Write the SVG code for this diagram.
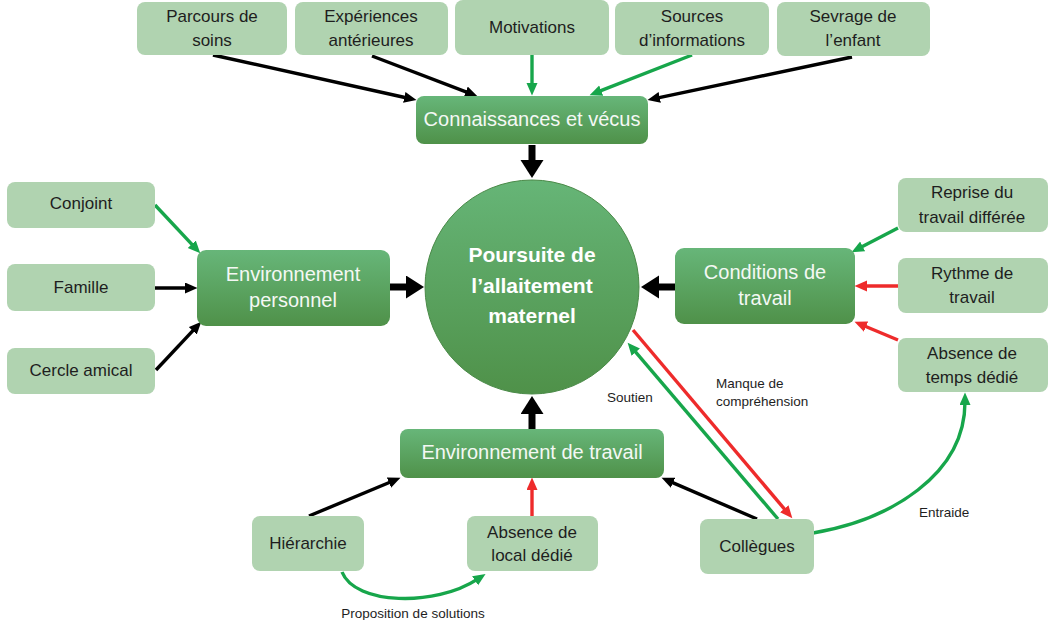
<svg xmlns="http://www.w3.org/2000/svg" width="1048" height="620" viewBox="0 0 1048 620">
<style>
.lb{fill:#b0d3b0}
.db{fill:url(#dg)}
.lt{font-family:"Liberation Sans",Arial,sans-serif;font-size:17px;fill:#1e1e1e;text-anchor:middle}
.dt{font-family:"Liberation Sans",Arial,sans-serif;font-size:20px;fill:#f4f8f4;text-anchor:middle}
.ct{font-family:"Liberation Sans",Arial,sans-serif;font-size:21px;font-weight:bold;fill:#ffffff;text-anchor:middle}
.sl{font-family:"Liberation Sans",Arial,sans-serif;font-size:13.5px;fill:#1e1e1e}
.k{stroke:#000;stroke-width:3.4;fill:none;marker-end:url(#ak)}
.g{stroke:#17a64b;stroke-width:3.4;fill:none;marker-end:url(#ag)}
.r{stroke:#ee2b2b;stroke-width:3.4;fill:none;marker-end:url(#ar)}
.t{stroke:#000;stroke-width:7;fill:none;marker-end:url(#at)}
</style>
<defs>
<linearGradient id="dg" x1="0" y1="0" x2="0" y2="1">
<stop offset="0" stop-color="#67b679"/>
<stop offset="1" stop-color="#4f9149"/>
</linearGradient>
<linearGradient id="cg" x1="0" y1="0" x2="0" y2="1">
<stop offset="0" stop-color="#66b577"/>
<stop offset="1" stop-color="#4f9149"/>
</linearGradient>
<marker id="ak" markerUnits="userSpaceOnUse" markerWidth="14" markerHeight="12" refX="3" refY="5.5" orient="auto"><path d="M0,0 L12.5,5.5 L0,11 z" fill="#000"/></marker>
<marker id="ag" markerUnits="userSpaceOnUse" markerWidth="14" markerHeight="12" refX="3" refY="5.5" orient="auto"><path d="M0,0 L12.5,5.5 L0,11 z" fill="#17a64b"/></marker>
<marker id="ar" markerUnits="userSpaceOnUse" markerWidth="14" markerHeight="12" refX="3" refY="5.5" orient="auto"><path d="M0,0 L12.5,5.5 L0,11 z" fill="#ee2b2b"/></marker>
<marker id="at" markerUnits="userSpaceOnUse" markerWidth="19" markerHeight="24" refX="2" refY="11.5" orient="auto"><path d="M0,0 L18,11.5 L0,23 z" fill="#000"/></marker>
</defs>
<rect width="1048" height="620" fill="#fff"/>

<g id="connectors">
<line class="k" x1="213" y1="55" x2="407.2" y2="98"/>
<line class="k" x1="372" y1="56" x2="468.6" y2="92.8"/>
<line class="g" x1="532" y1="55" x2="532" y2="86"/>
<line class="g" x1="692" y1="55" x2="598.4" y2="91.7"/>
<line class="k" x1="852" y1="57" x2="656.8" y2="98.1"/>
<line class="g" x1="155" y1="205" x2="193.8" y2="246.4"/>
<line class="k" x1="155" y1="288" x2="188" y2="288"/>
<line class="k" x1="156" y1="370" x2="194.8" y2="328.6"/>
<line class="g" x1="898" y1="228" x2="860" y2="247.8"/>
<line class="r" x1="898" y1="286" x2="864" y2="286"/>
<line class="r" x1="898" y1="340" x2="863.3" y2="325.5"/>
<line class="k" x1="309" y1="516" x2="391.7" y2="481.5"/>
<line class="r" x1="532" y1="516" x2="532" y2="487"/>
<line class="k" x1="757" y1="519" x2="670.3" y2="481.6"/>
<line class="g" x1="778" y1="519" x2="633.8" y2="349.9"/>
<line class="r" x1="633" y1="330" x2="786.2" y2="511.1"/>
<path class="g" d="M813,533 C890,520 965,475 965,402"/>
<path class="g" d="M342,572 C355,605 435,607 477.6,579.1"/>
<line class="t" x1="532" y1="145" x2="532" y2="162"/>
<line class="t" x1="390" y1="287" x2="408" y2="287"/>
<line class="t" x1="675" y1="287" x2="657" y2="287"/>
<line class="t" x1="532" y1="429" x2="532" y2="412"/>
<text class="sl" x="607" y="402">Soutien</text>
<text class="sl" x="716" y="388">Manque de</text>
<text class="sl" x="716" y="406">compréhension</text>
<text class="sl" x="919" y="517">Entraide</text>
<text class="sl" x="413" y="618" text-anchor="middle">Proposition de solutions</text>
</g>

<g id="parcours"><rect class="lb" x="137" y="2" width="150" height="53" rx="8"/><text class="lt" x="212" y="22">Parcours de</text><text class="lt" x="212" y="46">soins</text></g>
<g id="experiences"><rect class="lb" x="295" y="2" width="153" height="53" rx="8"/><text class="lt" x="371" y="22">Expériences</text><text class="lt" x="371" y="46">antérieures</text></g>
<g id="motivations"><rect class="lb" x="455" y="0" width="154" height="55" rx="8"/><text class="lt" x="532" y="33">Motivations</text></g>
<g id="sources"><rect class="lb" x="615" y="2" width="154" height="53" rx="8"/><text class="lt" x="692" y="22">Sources</text><text class="lt" x="692" y="46">d’informations</text></g>
<g id="sevrage"><rect class="lb" x="777" y="2" width="153" height="54" rx="8"/><text class="lt" x="853" y="22">Sevrage de</text><text class="lt" x="853" y="46">l’enfant</text></g>

<g id="connaissances"><rect class="db" x="416" y="96" width="232" height="48" rx="8"/><text class="dt" x="532" y="126">Connaissances et vécus</text></g>

<g id="poursuite"><circle cx="532" cy="287" r="107" fill="url(#cg)" stroke="#4a8a48" stroke-width="1"/><text class="ct" x="532" y="262">Poursuite de</text><text class="ct" x="532" y="293">l’allaitement</text><text class="ct" x="532" y="323">maternel</text></g>

<g id="conjoint"><rect class="lb" x="7" y="182" width="148" height="46" rx="8"/><text class="lt" x="81" y="209">Conjoint</text></g>
<g id="famille"><rect class="lb" x="7" y="264" width="148" height="47" rx="8"/><text class="lt" x="81" y="293">Famille</text></g>
<g id="cercle"><rect class="lb" x="7" y="348" width="148" height="46" rx="8"/><text class="lt" x="81" y="376">Cercle amical</text></g>

<g id="envperso"><rect class="db" x="197" y="250" width="193" height="76" rx="9"/><text class="dt" x="293" y="281">Environnement</text><text class="dt" x="293" y="307">personnel</text></g>

<g id="conditions"><rect class="db" x="675" y="248" width="180" height="76" rx="9"/><text class="dt" x="765" y="279">Conditions de</text><text class="dt" x="765" y="305">travail</text></g>

<g id="reprise"><rect class="lb" x="898" y="178" width="150" height="54" rx="8"/><text class="lt" x="972" y="198">Reprise du</text><text class="lt" x="972" y="223">travail différée</text></g>
<g id="rythme"><rect class="lb" x="898" y="258" width="150" height="55" rx="8"/><text class="lt" x="972" y="279">Rythme de</text><text class="lt" x="972" y="303">travail</text></g>
<g id="absencetemps"><rect class="lb" x="898" y="338" width="150" height="54" rx="8"/><text class="lt" x="972" y="359">Absence de</text><text class="lt" x="972" y="383">temps dédié</text></g>

<g id="envtravail"><rect class="db" x="400" y="429" width="264" height="49" rx="8"/><text class="dt" x="532" y="459">Environnement de travail</text></g>

<g id="hierarchie"><rect class="lb" x="252" y="516" width="112" height="55" rx="8"/><text class="lt" x="308" y="549">Hiérarchie</text></g>
<g id="absencelocal"><rect class="lb" x="467" y="516" width="131" height="55" rx="8"/><text class="lt" x="532" y="538">Absence de</text><text class="lt" x="532" y="561">local dédié</text></g>
<g id="collegues"><rect class="lb" x="700" y="519" width="114" height="55" rx="8"/><text class="lt" x="757" y="552">Collègues</text></g>
</svg>
